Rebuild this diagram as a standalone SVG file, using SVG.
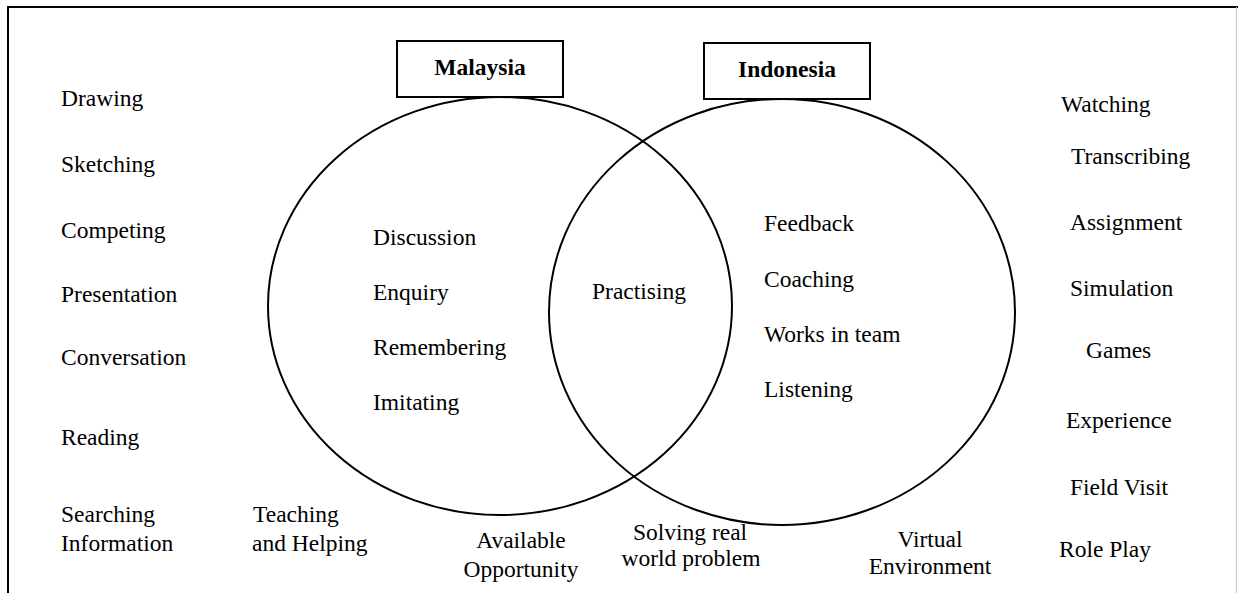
<svg xmlns="http://www.w3.org/2000/svg" width="1238" height="593" viewBox="0 0 1238 593">
  <style>
    .t { font-family: "Liberation Serif", "Times New Roman", serif; font-size: 23.5px; fill: #000; }
    .b { font-weight: bold; }
    .m { text-anchor: middle; }
    .ring { fill: none; stroke: #000; stroke-width: 2; }
    .box { fill: #fff; stroke: #000; stroke-width: 2; }
    .frame { stroke: #000; stroke-width: 2; fill: none; }
  </style>
  <rect width="1238" height="593" fill="#fff"/>

  <!-- outer frame: top and left rules, faint right rule -->
  <g id="frame">
    <line class="frame" x1="8" y1="7" x2="1238" y2="7"/>
    <line class="frame" x1="8" y1="6" x2="8" y2="593"/>
    <line x1="1236.5" y1="7" x2="1236.5" y2="593" stroke="#c8c8c8" stroke-width="1"/>
  </g>

  <!-- overlapping sets -->
  <g id="sets">
    <ellipse id="set-malaysia" class="ring" cx="500" cy="306" rx="232" ry="209"/>
    <ellipse id="set-indonesia" class="ring" cx="782" cy="312" rx="233" ry="213"/>
  </g>

  <g id="label-malaysia">
    <rect class="box" x="397" y="41" width="166" height="56"/>
    <text class="t b m" x="480" y="75">Malaysia</text>
  </g>
  <g id="label-indonesia">
    <rect class="box" x="704" y="43" width="166" height="56"/>
    <text class="t b m" x="787" y="77">Indonesia</text>
  </g>

  <!-- Malaysia only -->
  <g id="malaysia-items">
    <text class="t" x="373" y="245">Discussion</text>
    <text class="t" x="373" y="300">Enquiry</text>
    <text class="t" x="373" y="355">Remembering</text>
    <text class="t" x="373" y="410">Imitating</text>
  </g>

  <!-- shared -->
  <g id="shared-items">
    <text class="t" x="592" y="299">Practising</text>
  </g>

  <!-- Indonesia only -->
  <g id="indonesia-items">
    <text class="t" x="764" y="231">Feedback</text>
    <text class="t" x="764" y="287">Coaching</text>
    <text class="t" x="764" y="342">Works in team</text>
    <text class="t" x="764" y="397">Listening</text>
  </g>

  <!-- outside, left column -->
  <g id="left-items">
    <text class="t" x="61" y="106">Drawing</text>
    <text class="t" x="61" y="172">Sketching</text>
    <text class="t" x="61" y="238">Competing</text>
    <text class="t" x="61" y="302">Presentation</text>
    <text class="t" x="61" y="365">Conversation</text>
    <text class="t" x="61" y="445">Reading</text>
    <text class="t" x="61" y="522">Searching</text>
    <text class="t" x="61" y="551">Information</text>
  </g>

  <!-- outside, bottom row -->
  <g id="bottom-items">
    <text class="t" x="253" y="522">Teaching</text>
    <text class="t" x="252" y="551">and Helping</text>
    <text class="t m" x="521" y="548">Available</text>
    <text class="t m" x="521" y="577">Opportunity</text>
    <text class="t m" x="690" y="540">Solving real</text>
    <text class="t m" x="691" y="566">world problem</text>
    <text class="t m" x="930" y="547">Virtual</text>
    <text class="t m" x="930" y="574">Environment</text>
  </g>

  <!-- outside, right column -->
  <g id="right-items">
    <text class="t" x="1061" y="112">Watching</text>
    <text class="t" x="1071" y="164">Transcribing</text>
    <text class="t" x="1070" y="230">Assignment</text>
    <text class="t" x="1070" y="296">Simulation</text>
    <text class="t" x="1086" y="358">Games</text>
    <text class="t" x="1066" y="428">Experience</text>
    <text class="t" x="1070" y="495">Field Visit</text>
    <text class="t" x="1059" y="557">Role Play</text>
  </g>
</svg>
